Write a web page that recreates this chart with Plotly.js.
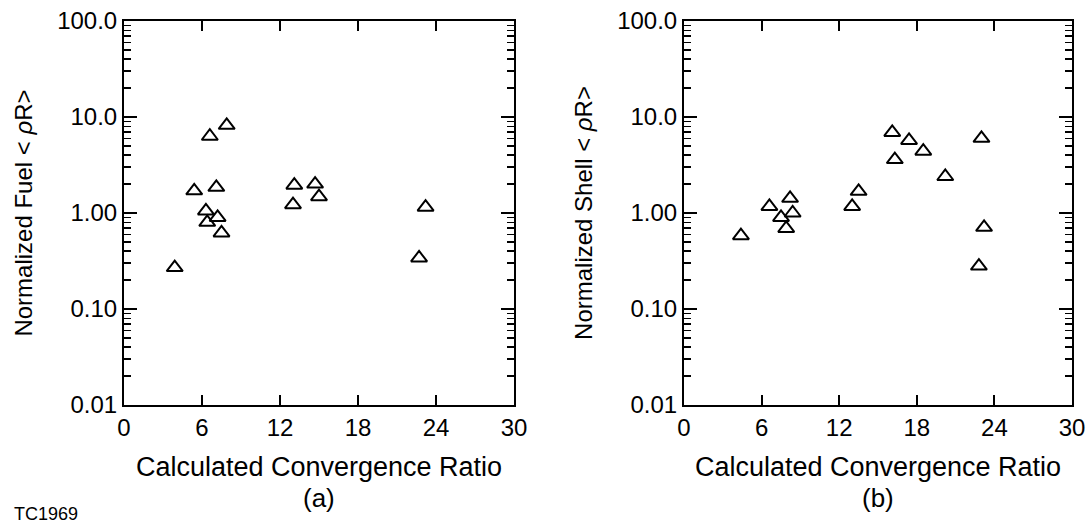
<!DOCTYPE html>
<html>
<head>
<meta charset="utf-8">
<script src="https://cdn.plot.ly/plotly-3.0.1.min.js"></script>
<style>
html,body{margin:0;padding:0;background:#fff;}
#chart{width:1088px;height:525px;}
</style>
</head>
<body>
<div id="chart"></div>
<script>
// Panel (a): Normalized Fuel <rhoR>
const fuelCR = [3.9, 5.4, 6.6, 7.9, 7.1, 6.3, 6.4, 7.2, 7.5, 13.1, 13.0, 14.7, 15.0, 23.2, 22.7];
const fuelRhoR = [0.27, 1.7, 6.3, 8.2, 1.85, 1.05, 0.8, 0.9, 0.62, 1.95, 1.22, 2.0, 1.48, 1.15, 0.34];
// Panel (b): Normalized Shell <rhoR>
const shellCR = [4.4, 6.6, 7.5, 7.9, 8.2, 8.4, 13.0, 13.5, 16.1, 16.3, 17.4, 18.5, 20.2, 23.0, 23.2, 22.8];
const shellRhoR = [0.58, 1.17, 0.9, 0.69, 1.42, 1.0, 1.17, 1.68, 6.9, 3.6, 5.7, 4.4, 2.4, 6.0, 0.71, 0.28];
// Axis ticks
const xTickVals = [0, 6, 12, 18, 24, 30];
const xTickText = ['0', '6', '12', '18', '24', '30'];
const yTickVals = [0.01, 0.1, 1, 10, 100];
const yTickText = ['0.01', '0.10', '1.00', '10.0', '100.0'];

const FONT = 'Liberation Sans, Arial, sans-serif';

const marker = {
  symbol: 'triangle-up-open',
  size: 14,
  color: '#000',
  line: {color: '#000', width: 2}
};

const traces = [
  {x: fuelCR, y: fuelRhoR, type: 'scatter', mode: 'markers', marker: marker, xaxis: 'x', yaxis: 'y', showlegend: false, hoverinfo: 'x+y'},
  {x: shellCR, y: shellRhoR, type: 'scatter', mode: 'markers', marker: marker, xaxis: 'x2', yaxis: 'y2', showlegend: false, hoverinfo: 'x+y'}
];

function xAxis(domain, anchor) {
  return {
    domain: domain, anchor: anchor,
    range: [0, 30],
    tickmode: 'array', tickvals: xTickVals, ticktext: xTickText,
    ticks: 'inside', ticklen: 10, tickwidth: 2, tickcolor: '#000',
    showline: true, linewidth: 2, linecolor: '#000', mirror: 'ticks',
    showgrid: false, zeroline: false,
    tickfont: {family: FONT, size: 24, color: '#000'},
    title: {text: 'Calculated Convergence Ratio', font: {family: FONT, size: 27, color: '#000'}, standoff: 17}
  };
}
function yAxis(domain, anchor, title) {
  return {
    domain: domain, anchor: anchor,
    type: 'log', range: [-2, 2],
    tickmode: 'array', tickvals: yTickVals, ticktext: yTickText,
    ticks: 'inside', ticklen: 13, tickwidth: 2, tickcolor: '#000',
    minor: {ticks: 'inside', ticklen: 7, tickwidth: 1.5, tickcolor: '#000', dtick: 'D1', showgrid: false},
    showline: true, linewidth: 2, linecolor: '#000', mirror: 'ticks',
    showgrid: false, zeroline: false,
    tickfont: {family: FONT, size: 24, color: '#000'},
    title: {text: title, font: {family: FONT, size: 24, color: '#000'}, standoff: 18}
  };
}

const yDom = [0.2286, 0.96];
const layout = {
  width: 1088, height: 525,
  margin: {l: 0, r: 0, t: 0, b: 0},
  paper_bgcolor: '#fff', plot_bgcolor: '#fff',
  showlegend: false,
  xaxis: xAxis([0.1140, 0.4724], 'y'),
  yaxis: yAxis(yDom, 'x', 'Normalized Fuel &lt; <i>ρ</i>R&gt;'),
  xaxis2: xAxis([0.6287, 0.9853], 'y2'),
  yaxis2: yAxis(yDom, 'x2', 'Normalized Shell &lt; <i>ρ</i>R&gt;'),
  annotations: [
    {text: '(a)', xref: 'paper', yref: 'paper', x: 0.2932, y: 0.052, xanchor: 'center', yanchor: 'middle', showarrow: false, font: {family: FONT, size: 26, color: '#000'}},
    {text: '(b)', xref: 'paper', yref: 'paper', x: 0.8070, y: 0.052, xanchor: 'center', yanchor: 'middle', showarrow: false, font: {family: FONT, size: 26, color: '#000'}},
    {text: 'TC1969', xref: 'paper', yref: 'paper', x: 0.012, y: 0.0, xanchor: 'left', yanchor: 'bottom', showarrow: false, font: {family: FONT, size: 18, color: '#000'}, borderpad: 0}
  ]
};

Plotly.newPlot('chart', traces, layout, {displayModeBar: false, staticPlot: true});
</script>
</body>
</html>
